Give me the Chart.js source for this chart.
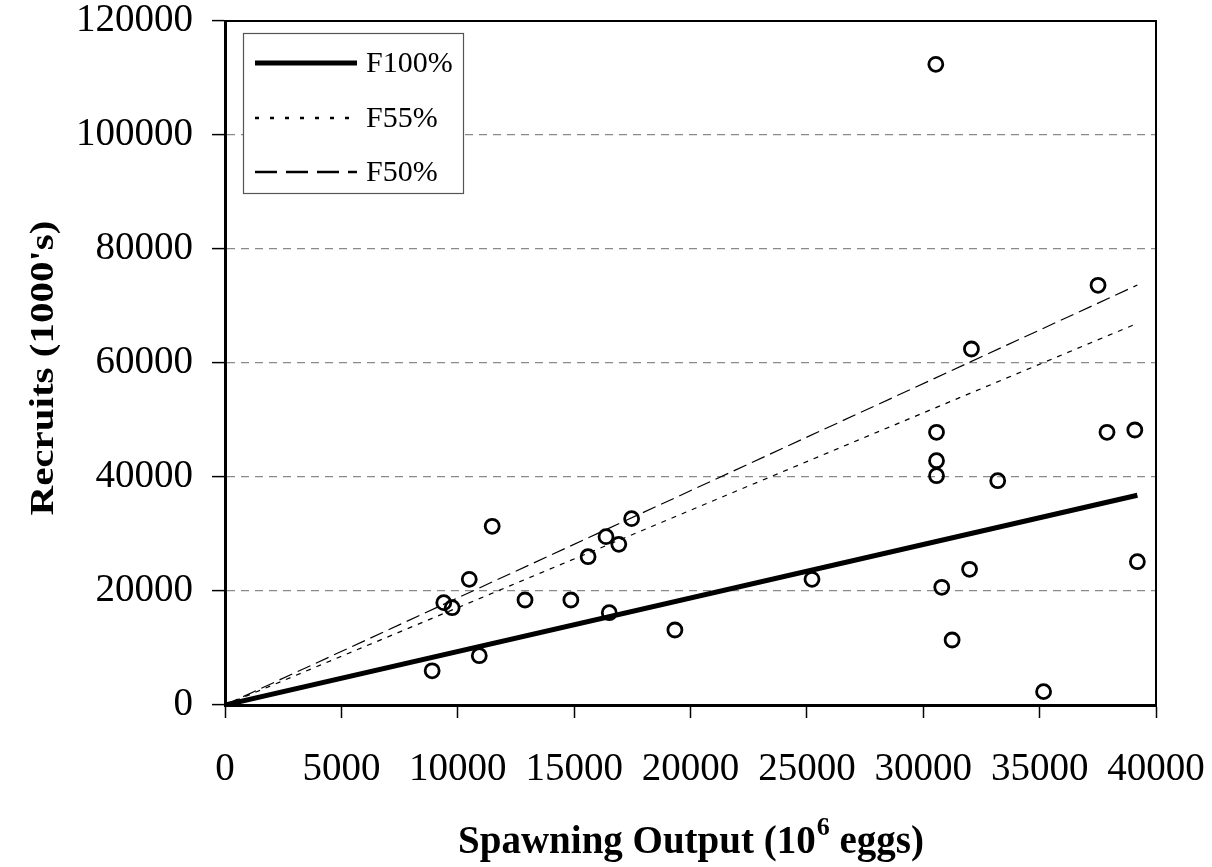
<!DOCTYPE html>
<html lang="en">

<head>
    <meta charset="UTF-8">
    <script src="https://cdn.jsdelivr.net/npm/chart.js"></script>
    <title>Spawning Output x Recruits</title>
    <style>
        body { margin: 0; background: #fff; }
    </style>
</head>

<body>
    <canvas id="myChart" width="1212" height="867"></canvas>
</body>

</html>
<script>
    // observed points: spawning output (10^6 eggs) and recruits (1000's)
    const spawning = [8900, 9400, 9760, 10495, 10925, 11480, 12890, 14860, 15600, 16370, 16510, 16920, 17470, 19330, 25220,
        30540, 30570, 30570, 30570, 30795, 31240, 31990, 32070, 33200, 35170, 37510, 37895, 39090, 39200];
    const recruits = [6000, 17950, 17070, 22050, 8650, 31350, 18420, 18420, 26020, 29530, 16190, 28190, 32690, 13160, 22050,
        112400, 47840, 42860, 40230, 20650, 11400, 23810, 62460, 39350, 2340, 73630, 47840, 48250, 25140];

    // replacement lines
    const lineX = [0, 39200];
    const f100 = [0, 36800];
    const f55 = [0, 66960];
    const f50 = [0, 73680];

    const xTicks = [0, 5000, 10000, 15000, 20000, 25000, 30000, 35000, 40000];
    const yTicks = [0, 20000, 40000, 60000, 80000, 100000, 120000];

    const serif = 'Liberation Serif';
    const toPoints = (xs, ys) => xs.map((x, i) => ({ x: x, y: ys[i] }));

    // legend box, frame top/right and axis titles
    const extras = {
        id: 'extras',
        afterDraw(chart) {
            const { ctx, chartArea: a } = chart;
            ctx.save();

            ctx.strokeStyle = '#000';
            ctx.lineWidth = 2;
            ctx.beginPath();
            ctx.moveTo(a.left, a.top);
            ctx.lineTo(a.right, a.top);
            ctx.lineTo(a.right, a.bottom);
            ctx.stroke();

            // legend
            ctx.fillStyle = '#fff';
            ctx.fillRect(243, 33, 220, 160);
            ctx.strokeStyle = '#555';
            ctx.lineWidth = 1.2;
            ctx.strokeRect(243.5, 33.5, 220, 160);

            const rows = [
                { ds: 1, y: 63, width: 5, dash: [] },
                { ds: 2, y: 118, width: 2.5, dash: [4, 11] },
                { ds: 3, y: 172, width: 2.5, dash: [22, 9] }
            ];
            rows.forEach(r => {
                ctx.strokeStyle = '#000';
                ctx.lineWidth = r.width;
                ctx.setLineDash(r.dash);
                ctx.beginPath();
                ctx.moveTo(255, r.y);
                ctx.lineTo(357, r.y);
                ctx.stroke();
                ctx.setLineDash([]);
                ctx.fillStyle = '#000';
                ctx.font = '30px "' + serif + '"';
                ctx.textAlign = 'left';
                ctx.textBaseline = 'middle';
                ctx.fillText(chart.data.datasets[r.ds].label, 366, r.y + 1);
            });

            // x title with superscript
            const big = 'bold 39px "' + serif + '"';
            const small = 'bold 26px "' + serif + '"';
            const p1 = 'Spawning Output (10', p2 = '6', p3 = ' eggs)';
            ctx.font = big;
            const w1 = ctx.measureText(p1).width, w3 = ctx.measureText(p3).width;
            ctx.font = small;
            const w2 = ctx.measureText(p2).width;
            let x = (a.left + a.right) / 2 - (w1 + w2 + w3) / 2;
            ctx.textAlign = 'left';
            ctx.textBaseline = 'alphabetic';
            ctx.font = big;
            ctx.fillText(p1, x, 853);
            ctx.font = small;
            ctx.fillText(p2, x + w1 + 1, 835);
            ctx.font = big;
            ctx.fillText(p3, x + w1 + w2 + 1, 853);

            // y title (a bit narrow in the original)
            ctx.translate(53, 368);
            ctx.rotate(-Math.PI / 2);
            ctx.scale(1, 0.8);
            ctx.font = 'bold 41px "' + serif + '"';
            ctx.textAlign = 'center';
            ctx.fillText("Recruits (1000's)", 0, 0);

            ctx.restore();
        }
    };

    new Chart(document.getElementById('myChart'), {
        type: 'scatter',
        data: {
            datasets: [
                {
                    label: 'Observed',
                    data: toPoints(spawning, recruits),
                    pointRadius: 7,
                    pointBorderWidth: 2.8,
                    borderColor: '#000',
                    backgroundColor: 'rgba(0,0,0,0)',
                    showLine: false
                },
                {
                    label: 'F100%',
                    data: toPoints(lineX, f100),
                    showLine: true,
                    borderColor: '#000',
                    borderWidth: 5,
                    pointRadius: 0
                },
                {
                    label: 'F55%',
                    data: toPoints(lineX, f55),
                    showLine: true,
                    borderColor: '#000',
                    borderWidth: 1.2,
                    borderDash: [5, 6],
                    pointRadius: 0
                },
                {
                    label: 'F50%',
                    data: toPoints(lineX, f50),
                    showLine: true,
                    borderColor: '#000',
                    borderWidth: 1.2,
                    borderDash: [14, 6],
                    pointRadius: 0
                }
            ]
        },
        options: {
            responsive: false,
            animation: false,
            devicePixelRatio: 1,
            layout: { padding: { top: 21, right: 56, left: 0, bottom: 0 } },
            plugins: {
                legend: { display: false },
                tooltip: { enabled: false }
            },
            scales: {
                x: {
                    type: 'linear',
                    min: 0,
                    max: 40000,
                    afterBuildTicks: s => { s.ticks = xTicks.map(v => ({ value: v })); },
                    afterFit: s => { s.height = 162; s.paddingLeft = 0; s.paddingRight = 0; },
                    ticks: {
                        color: '#000',
                        font: { family: serif, size: 39 },
                        padding: 28,
                        maxRotation: 0,
                        autoSkip: false,
                        callback: v => String(v)
                    },
                    grid: { drawOnChartArea: false, tickLength: 13, tickColor: '#000', tickWidth: 1.5 },
                    border: { color: '#000', width: 3 }
                },
                y: {
                    min: 0,
                    max: 120000,
                    afterBuildTicks: s => { s.ticks = yTicks.map(v => ({ value: v })); },
                    afterFit: s => { s.width = 225; s.paddingTop = 0; s.paddingBottom = 0; },
                    ticks: {
                        color: '#000',
                        font: { family: serif, size: 39 },
                        padding: 19,
                        callback: v => String(v)
                    },
                    grid: { color: '#8a8a8a', lineWidth: 1.2, tickLength: 13, tickColor: '#000', tickWidth: 1.5, tickBorderDash: [] },
                    border: { color: '#000', width: 3, dash: [8, 6] }
                }
            }
        },
        plugins: [extras]
    });
</script>
